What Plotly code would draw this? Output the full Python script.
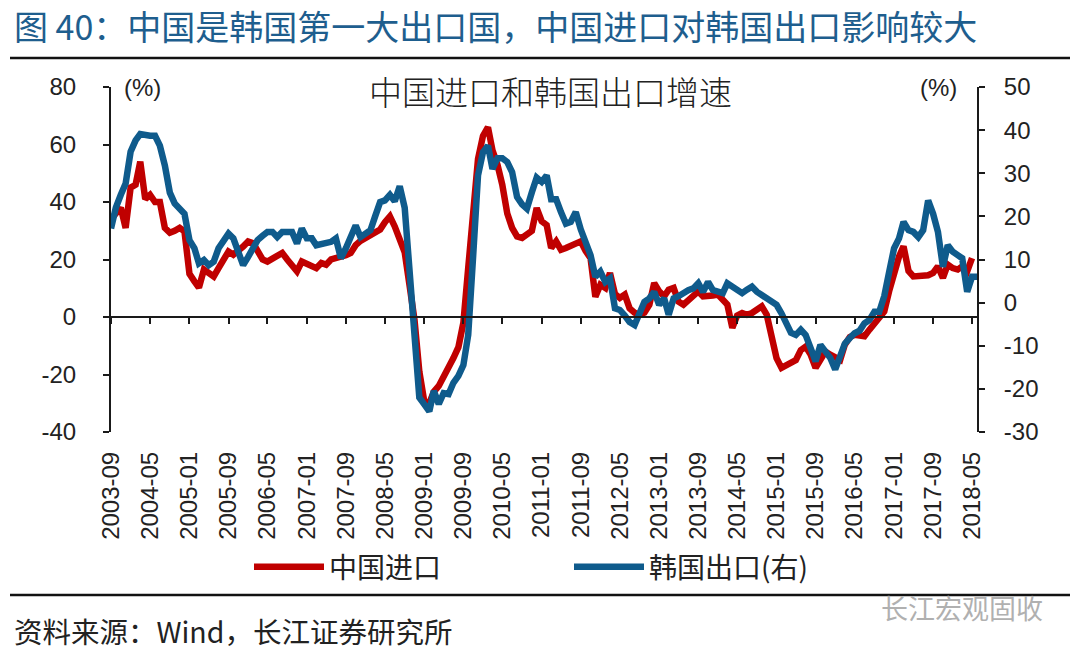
import pandas as pd
import plotly.graph_objects as go

# ---------------- data ----------------
START_MONTH = "2003-09-01"

# China imports growth, % yoy (left axis), 2003-09 .. 2018-05
china_imports = [
    34, 36, 38, 31,                                                   # 2003 Sep-Dec
    45, 46, 54, 41, 42.5, 40, 40, 31, 29.3, 30, 31, 29.8,             # 2004
    15, 12.4, 10.2, 16.5, 15, 14.1, 17, 20, 22.8, 21.7, 22.8, 24.5,   # 2005
    26.3, 25.7, 23, 20, 19.3, 20.5, 21.5, 22.3, 20, 18, 15.9, 19.3,   # 2006
    18.5, 18, 17, 18.8, 18.2, 20, 20.5, 20.5, 21.5, 22.3, 25, 26.5,   # 2007
    27.5, 28.5, 29.2, 30.4, 33, 35, 31.5, 27.5, 22.5, 11, -1, -19,    # 2008
    -29.5, -30, -26, -24, -21, -17.5, -14.3, -10.5, -2, 17, 40, 55,   # 2009
    63, 66, 58, 53, 46, 36, 31, 28, 27.5, 28.5, 30, 37.9,             # 2010
    33.3, 32, 24, 26.3, 23.4, 24, 24.6, 25.5, 26.3, 23, 20.5, 7,      # 2011
    11.2, 10.1, 15.3, 8, 6.6, 7.8, 3, 1.5, 0.8, 1.5, 4.3, 11.8,       # 2012
    8.9, 7.2, 9.5, 10.1, 5.4, 4.3, 6, 7.5, 8.9, 7.2, 7.2, 7.5,        # 2013
    7.8, 6, 4.3, -3.8, 0.5, 1.4, 0.8, 1.4, 2.5, 3.7, 0.8, -7,         # 2014
    -14.3, -17.7, -17, -16, -15, -11.5, -10.3, -13.1, -17.7, -14.9, -12, -13.1,  # 2015
    -14, -14.9, -9.6, -7, -6.2, -6.7, -6.7, -4.4, -2.1, -0.5, 1.9, 8.9,          # 2016
    15.9, 21, 24.6, 16, 14.1, 14.1, 14.1, 14.5, 15.3, 17.6, 13.6, 18.2,          # 2017
    17, 16.5, 17.6, 15.9, 20.5,                                       # 2018 Jan-May
]

# Korea exports growth, % yoy (right axis), 2003-09 .. 2018-06
korea_exports = [
    17.2, 22, 25, 27.6,                                               # 2003 Sep-Dec
    35, 37.6, 39.1, 38.7, 38.7, 38.7, 36.4, 31.8, 25.5, 23, 22, 20.6, # 2004
    14.5, 12.6, 9.1, 9.9, 8.7, 9.5, 12.6, 14.5, 16, 14.9, 12, 8.7,    # 2005
    10.6, 12.6, 14.5, 15.5, 16.4, 16.4, 15.2, 16.4, 16.4, 16.4, 13.7, 17.2,  # 2006
    14.9, 14.9, 13.3, 13.7, 14, 14.1, 14.9, 10.3, 12.6, 15, 17.9, 15.2,      # 2007
    16, 16.8, 20, 23.3, 23.7, 25, 23.5, 27, 22, 8, -8, -22,           # 2008
    -23.6, -25.2, -20.5, -23.5, -21, -21.2, -18.6, -17, -14.5, -7.5, 11, 29.5,  # 2009
    34.9, 36.4, 31, 33.5, 33.5, 32.6, 30.3, 24.5, 22.8, 21.8, 25.6, 29,         # 2010
    28, 29.5, 24, 24, 21, 18.3, 18.7, 21, 17, 13.5, 11, 6,            # 2011
    7.2, 4.8, 5.6, -1.3, -1.7, -3, -4.5, -5.2, -2.8, 0.2, 1, 2.5,     # 2012
    -0.5, 1, -2.8, 1, 1.5, 2.3, 2.9, 3.3, 4.5, 2.5, 4.8, 2.9,         # 2013
    2.5, 2.2, 4.5, 3.7, 3, 2.2, 3, 3.7, 2.5, 1.8, 1, 0.2,             # 2014
    -0.5, -2.5, -4.4, -7, -7.5, -6.3, -7.5, -10.2, -13.6, -9.8, -11.3, -12.8,  # 2015
    -15.5, -12.1, -9.5, -8.2, -7.1, -6.5, -4.8, -4, -2.1, -2.1, 1.5, 7,        # 2016
    12.6, 14.9, 18.7, 16.8, 16.4, 15.2, 16.8, 23.7, 20.6, 16.4, 8.3, 13.3,     # 2017
    11.8, 11, 10.3, 2.5, 6, 6,                                        # 2018 Jan-Jun
]

TICK_LABELS = ["2003-09", "2004-05", "2005-01", "2005-09", "2006-05", "2007-01",
               "2007-09", "2008-05", "2009-01", "2009-09", "2010-05", "2011-01",
               "2011-09", "2012-05", "2013-01", "2013-09", "2014-05", "2015-01",
               "2015-09", "2016-05", "2017-01", "2017-09", "2018-05"]
LEFT_TICKS = [-40, -20, 0, 20, 40, 60, 80]
RIGHT_TICKS = [-30, -20, -10, 0, 10, 20, 30, 40, 50]
X_RANGE = ["2003-09-01", "2018-06-01"]

NAME_CN = "中国进口"
NAME_KR = "韩国出口(右)"
HEADER = "图 40：中国是韩国第一大出口国，中国进口对韩国出口影响较大"
CHART_TITLE = "中国进口和韩国出口增速"
SOURCE = "资料来源：Wind，长江证券研究所"
WATERMARK = "长江宏观固收"

# ---------------- derived ----------------
months_kr = pd.date_range(START_MONTH, periods=len(korea_exports), freq="MS").strftime("%Y-%m-%d").tolist()
months_cn = months_kr[:len(china_imports)]
tick_dates = [t + "-01" for t in TICK_LABELS]

W, H = 1080, 658
ML, MR, MT, MB = 111, 103, 87, 226
PW, PH = W - ML - MR, H - MT - MB


def fx(px):
    return (px - ML) / PW


def fy(py):
    return (H - MB - py) / PH


FONT = "Liberation Sans, Arial, Noto Sans CJK SC, sans-serif"
CJK = "Noto Sans CJK SC, Liberation Sans, sans-serif"
RED = "#C00000"
BLUE = "#0F5B8C"
INK = "#1a1a1a"
TXT = "#222222"

fig = go.Figure()
fig.add_trace(go.Scatter(x=months_cn, y=china_imports, mode="lines", name=NAME_CN,
                         line=dict(color=RED, width=6.5), yaxis="y", xaxis="x"))
fig.add_trace(go.Scatter(x=months_kr, y=korea_exports, mode="lines", name=NAME_KR,
                         line=dict(color=BLUE, width=6.5), yaxis="y2", xaxis="x"))
# carrier for the zero-line axis (no marks)
fig.add_trace(go.Scatter(x=[X_RANGE[0], X_RANGE[1]], y=[None, None], mode="lines",
                         xaxis="x2", yaxis="y", showlegend=False, hoverinfo="skip"))

axis_common = dict(showgrid=False, zeroline=False, linecolor=INK, linewidth=2,
                   tickcolor=INK, tickwidth=2)

fig.update_layout(
    width=W, height=H,
    margin=dict(l=ML, r=MR, t=MT, b=MB, pad=0),
    paper_bgcolor="white", plot_bgcolor="white",
    font=dict(family=FONT, color=TXT),
    showlegend=True,
    legend=dict(orientation="h", x=fx(249), xanchor="left", y=fy(567), yanchor="middle",
                font=dict(family=CJK, size=28, color=TXT), bgcolor="rgba(0,0,0,0)",
                entrywidth=235, entrywidthmode="pixels", itemwidth=70),
    xaxis=dict(type="date", range=X_RANGE, tickmode="array", tickvals=tick_dates,
               ticktext=TICK_LABELS, tickangle=-90, ticks="", showline=False,
               showgrid=False, zeroline=False, ticklabelstandoff=14,
               tickfont=dict(family=FONT, size=24, color=TXT)),
    xaxis2=dict(type="date", range=X_RANGE, overlaying="x", anchor="free", position=1/3,
                side="bottom", tickmode="array", tickvals=tick_dates, ticks="outside",
                ticklen=6, showline=True, showticklabels=False, **axis_common),
    yaxis=dict(range=[-40, 80], tickmode="array", tickvals=LEFT_TICKS,
               ticktext=[str(v) for v in LEFT_TICKS], ticks="outside", ticklen=6,
               showline=True, ticklabelstandoff=22,
               tickfont=dict(family=FONT, size=24, color=TXT), **axis_common),
    yaxis2=dict(range=[-30, 50], overlaying="y", side="right", tickmode="array",
                tickvals=RIGHT_TICKS, ticktext=[str(v) for v in RIGHT_TICKS],
                ticks="outside", ticklen=6, showline=True, ticklabelstandoff=14,
                tickfont=dict(family=FONT, size=24, color=TXT), **axis_common),
)

ann = [
    dict(text=HEADER, x=fx(12), y=fy(25), xanchor="left", yanchor="middle",
         font=dict(family=CJK, size=34, color="#1E5E8E")),
    dict(text=CHART_TITLE, x=fx(550), y=fy(91), xanchor="center", yanchor="middle",
         font=dict(family=CJK, size=33, color=TXT, weight=300)),
    dict(text="(%)", x=fx(142), y=fy(87), xanchor="center", yanchor="middle",
         font=dict(family=FONT, size=24, color=TXT)),
    dict(text="(%)", x=fx(938), y=fy(87), xanchor="center", yanchor="middle",
         font=dict(family=FONT, size=24, color=TXT)),
    dict(text=SOURCE, x=fx(12), y=fy(630), xanchor="left", yanchor="middle",
         font=dict(family=CJK, size=28.5, color=TXT)),
    dict(text=WATERMARK, x=fx(962), y=fy(607), xanchor="center", yanchor="middle",
         font=dict(family=CJK, size=27, color="#b0b0b0")),
]
for a in ann:
    a.update(xref="paper", yref="paper", showarrow=False)
fig.update_layout(annotations=ann)

fig.update_layout(shapes=[
    dict(type="line", xref="paper", yref="paper", x0=fx(10), x1=fx(1070), y0=fy(58), y1=fy(58),
         line=dict(color="#111111", width=2.5)),
    dict(type="line", xref="paper", yref="paper", x0=fx(10), x1=fx(1070), y0=fy(595), y1=fy(595),
         line=dict(color="#111111", width=2.5)),
])

fig.write_html("out.html", config={"displayModeBar": False},
               post_script="document.body.style.margin='0';document.body.style.padding='0';")
